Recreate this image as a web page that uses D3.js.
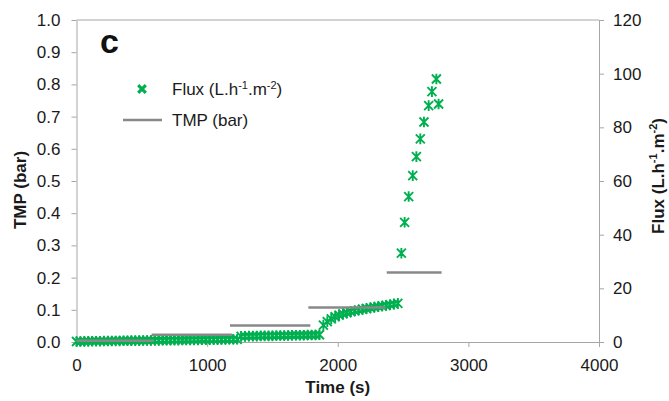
<!DOCTYPE html>
<html>
<head>
<meta charset="utf-8">
<script src="https://cdn.jsdelivr.net/npm/d3@7/dist/d3.min.js"></script>
<style>
  html, body { margin: 0; padding: 0; background: #fff; }
  svg { display: block; font-family: "Liberation Sans", Arial, sans-serif; }
</style>
</head>
<body>
<svg id="chart" width="669" height="401"></svg>
<script>
// ---- Data ----
const timeTicks = [0, 1000, 2000, 3000, 4000];
const tmpTicks = [0, 0.1, 0.2, 0.3, 0.4, 0.5, 0.6, 0.7, 0.8, 0.9, 1.0];
const fluxTicks = [0, 20, 40, 60, 80, 100, 120];

// Flux measurements (time s, flux L.h-1.m-2)
const fluxTime = [
  0, 30, 60, 90, 120, 150, 180, 210, 240, 270, 300, 330, 360, 390, 420, 450, 480, 510, 540, 570,
  600, 630, 660, 690, 720, 750, 780, 810, 840, 870, 900, 930, 960, 990, 1020, 1050, 1080, 1110, 1140, 1170,
  1200, 1230,
  1260, 1290, 1320, 1350, 1380, 1410, 1440, 1470, 1500, 1530, 1560, 1590, 1620, 1650, 1680, 1710, 1740, 1770,
  1800, 1830, 1860,
  1890, 1920, 1950, 1980, 2010, 2040, 2070, 2100, 2130, 2160, 2190, 2220, 2250, 2280, 2310, 2340, 2370, 2400,
  2430, 2460,
  2487, 2512, 2543, 2574, 2602, 2632, 2660, 2696, 2721, 2755, 2772
];
const fluxValue = [
  0.2, 0.2, 0.25, 0.25, 0.3, 0.3, 0.3, 0.35, 0.35, 0.4, 0.4, 0.4, 0.45, 0.45, 0.5, 0.5, 0.5, 0.55, 0.55, 0.6,
  0.6, 0.6, 0.65, 0.65, 0.7, 0.7, 0.7, 0.75, 0.75, 0.8, 0.8, 0.8, 0.85, 0.85, 0.9, 0.9, 0.9, 0.95, 0.95, 1.0,
  1.0, 1.0,
  2.1, 2.1, 2.2, 2.2, 2.2, 2.3, 2.3, 2.3, 2.3, 2.4, 2.4, 2.4, 2.4, 2.5, 2.5, 2.5, 2.5, 2.6,
  2.6, 2.6, 2.7,
  6.3, 7.6, 8.6, 9.4, 10.0, 10.5, 10.9, 11.3, 11.6, 11.9, 12.2, 12.5, 12.7, 13.0, 13.2, 13.4, 13.6, 13.9,
  14.1, 14.4,
  33.1, 44.6, 54.2, 62.0, 69.1, 75.7, 82.0, 88.1, 93.3, 98.0, 88.7
];

// TMP steps (start time, end time, TMP bar)
const tmpStart = [0, 575, 1175, 1775, 2375];
const tmpEnd = [590, 1190, 1790, 2365, 2795];
const tmpValue = [0.004, 0.0227, 0.051, 0.107, 0.216];

// ---- Drawing ----
const svg = d3.select("#chart");
const green = "#00b050";
const grey = "#898989";
const axisCol = "#a6a6a6";

const x = d3.scaleLinear().domain([0, 4000]).range([76.5, 599]);
const yL = d3.scaleLinear().domain([0, 1]).range([342, 20]);
const yR = d3.scaleLinear().domain([0, 120]).range([342, 20]);

function styleAxis(g) {
  g.select(".domain").attr("stroke", axisCol).attr("stroke-width", 1);
  g.selectAll(".tick line").attr("stroke", axisCol).attr("stroke-width", 1);
  g.selectAll(".tick text").attr("fill", "#1a1a1a").attr("font-size", 17)
    .attr("font-family", "'Liberation Sans', Arial, sans-serif");
}

// top border
svg.append("line")
  .attr("x1", x(0)).attr("x2", x(4000))
  .attr("y1", yL(1)).attr("y2", yL(1))
  .attr("stroke", axisCol).attr("stroke-width", 1);

svg.append("g").attr("transform", `translate(0,${yL(0)})`)
  .call(d3.axisBottom(x).tickValues(timeTicks).tickFormat(d3.format("d"))
    .tickSizeOuter(0).tickSizeInner(5).tickPadding(12))
  .call(styleAxis);

svg.append("g").attr("transform", `translate(${x(0)},0)`)
  .call(d3.axisLeft(yL).tickValues(tmpTicks).tickFormat(d3.format(".1f"))
    .tickSizeOuter(0).tickSizeInner(5).tickPadding(11))
  .call(styleAxis);

svg.append("g").attr("transform", `translate(${x(4000)},0)`)
  .call(d3.axisRight(yR).tickValues(fluxTicks).tickFormat(d3.format("d"))
    .tickSizeOuter(0).tickSizeInner(5).tickPadding(9))
  .call(styleAxis);

// Axis titles
svg.append("text").attr("x", (x(0) + x(4000)) / 2).attr("y", 393)
  .attr("text-anchor", "middle").attr("font-size", 17).attr("font-weight", "bold")
  .attr("fill", "#1a1a1a").text("Time (s)");

svg.append("text").attr("transform", "translate(26,190) rotate(-90)")
  .attr("text-anchor", "middle").attr("font-size", 17).attr("font-weight", "bold")
  .attr("fill", "#1a1a1a").text("TMP (bar)");

const fl = svg.append("text").attr("transform", "translate(663.5,176) rotate(-90)")
  .attr("text-anchor", "middle").attr("font-size", 17).attr("font-weight", "bold")
  .attr("fill", "#1a1a1a");
fl.append("tspan").text("Flux (L.h");
fl.append("tspan").attr("font-size", 11).attr("dy", -7).text("-1");
fl.append("tspan").attr("dy", 7).text(".m");
fl.append("tspan").attr("font-size", 11).attr("dy", -7).text("-2");
fl.append("tspan").attr("dy", 7).text(")");

// panel label
svg.append("text").attr("x", 100).attr("y", 53)
  .attr("font-size", 34).attr("font-weight", "bold").attr("fill", "#111").text("c");

// Flux markers (star: x + vertical)
const fluxData = fluxTime.map((t, i) => ({ t, v: fluxValue[i] }));
const s = 4.5;
const starPath = `M${-s},${-s}L${s},${s}M${-s},${s}L${s},${-s}M0,${-s - 0.8}L0,${s + 0.8}`;
svg.append("g").selectAll("path").data(fluxData).join("path")
  .attr("transform", d => `translate(${x(d.t)},${yR(d.v)})`)
  .attr("d", starPath)
  .attr("stroke", green).attr("stroke-width", 1.9).attr("fill", "none");

// TMP steps
const tmpData = tmpStart.map((s0, i) => ({ s: s0, e: tmpEnd[i], v: tmpValue[i] }));
svg.append("g").selectAll("line").data(tmpData).join("line")
  .attr("x1", d => x(d.s)).attr("x2", d => x(d.e))
  .attr("y1", d => yL(d.v)).attr("y2", d => yL(d.v))
  .attr("stroke", grey).attr("stroke-width", 2.5);

// Legend
const lg = svg.append("g");
const ls = 3.8;
lg.append("path").attr("transform", "translate(142,89)")
  .attr("d", `M${-ls},${-ls}L${ls},${ls}M${-ls},${ls}L${ls},${-ls}`)
  .attr("stroke", green).attr("stroke-width", 3.2).attr("fill", "none");
const lt = lg.append("text").attr("x", 172).attr("y", 95).attr("font-size", 17).attr("fill", "#1a1a1a");
lt.append("tspan").text("Flux (L.h");
lt.append("tspan").attr("font-size", 11).attr("dy", -6).text("-1");
lt.append("tspan").attr("dy", 6).text(".m");
lt.append("tspan").attr("font-size", 11).attr("dy", -6).text("-2");
lt.append("tspan").attr("dy", 6).text(")");

lg.append("line").attr("x1", 123).attr("x2", 162).attr("y1", 120).attr("y2", 120)
  .attr("stroke", grey).attr("stroke-width", 2.5);
lg.append("text").attr("x", 172).attr("y", 126).attr("font-size", 17).attr("fill", "#1a1a1a").text("TMP (bar)");
</script>
</body>
</html>
